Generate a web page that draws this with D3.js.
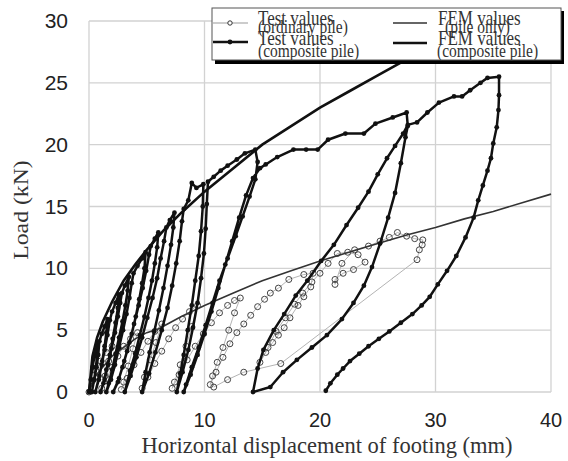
<!DOCTYPE html>
<html>
<head>
<meta charset="utf-8">
<script src="https://cdn.jsdelivr.net/npm/d3@7"></script>
<style>
  body { margin: 0; background: #fff; }
  svg { display: block; }
</style>
</head>
<body>
<div id="chart"></div>
<script>
// axis ticks
var xTicks = [0, 10, 20, 30, 40];
var yTicks = [0, 5, 10, 15, 20, 25, 30];

// FEM values (composite pile)  [displacement mm, load kN]
var femComposite = [[0,0],[0.3,2.9],[0.7,4.4],[1.2,5.7],[2,7.3],[3,9.0],[4,10.3],[5,11.5],[6.5,13.1],
  [8,14.5],[10,16.2],[12.5,18.1],[15,20.0],[17.5,21.5],[20,23.0],[22.5,24.3],[25,25.6],[27.5,26.9],
  [30,28.2],[32.5,29.3],[34.5,30.2]];

// FEM values (pile only)
var femPile = [[0,0],[0.5,1.2],[1,1.8],[2,2.9],[3,3.6],[4,4.3],[5,4.8],[6,5.1],[7,5.6],[8,6.1],[10,7.0],
  [12.5,8.0],[15,9.0],[17.5,9.8],[20,10.6],[22.5,11.3],[25,12.0],[27.5,12.7],[30,13.3],[32.5,14.0],
  [35,14.6],[37.5,15.3],[40,16.0]];

// Test values (composite pile), in loading order
var testComposite = [
  [0,0],[0.15,1.0],[0.3,2.0],[0.5,3.0],[0.75,4.0],
  [0.7,3.0],[0.6,2.0],[0.45,1.0],[0.25,0],
  [0.45,1.0],[0.65,2.0],[0.8,3.0],[0.9,4.1],
  [1.1,4.7],[1.35,5.3],[1.6,5.9],
  [1.5,4.8],[1.35,3.7],[1.15,2.5],[0.9,1.3],[0.55,0],
  [0.85,1.0],[1.1,2.2],[1.35,3.4],[1.6,4.6],[1.8,5.8],
  [2.0,6.5],[2.3,7.2],[2.6,7.9],
  [2.5,6.8],[2.3,5.6],[2.05,4.3],[1.8,3.0],[1.5,1.8],[1.25,0.7],[1.0,0],
  [1.35,1.0],[1.65,2.2],[1.95,3.5],[2.25,4.8],[2.5,6.1],[2.7,7.2],[2.85,8.0],
  [3.1,8.6],[3.45,9.3],
  [3.35,8.2],[3.15,7.0],[2.9,5.7],[2.6,4.4],[2.3,3.1],[2.0,1.8],[1.7,0.7],[1.5,0],
  [1.9,1.0],[2.25,2.2],[2.6,3.6],[2.95,5.0],[3.25,6.3],[3.5,7.6],[3.7,8.8],[3.85,9.6],
  [4.2,10.2],[4.6,10.8],[4.9,11.3],
  [4.8,10.0],[4.6,8.8],[4.35,7.5],[4.05,6.1],[3.7,4.7],[3.3,3.3],[2.9,2.0],[2.5,0.8],[2.1,0],
  [2.6,1.1],[3.05,2.5],[3.5,4.0],[3.9,5.5],[4.3,7.0],[4.65,8.4],[4.95,9.8],[5.2,11.1],[5.35,11.8],
  [5.7,12.4],[6.0,12.9],
  [5.9,11.7],[5.7,10.4],[5.45,9.0],[5.15,7.6],[4.8,6.1],[4.4,4.6],[4.0,3.1],[3.55,1.7],[3.1,0],
  [3.6,1.3],[4.1,2.8],[4.6,4.4],[5.05,6.0],[5.5,7.6],[5.9,9.2],[6.2,10.8],[6.5,12.2],[6.7,13.3],
  [7.0,13.9],[7.4,14.5],
  [7.3,13.3],[7.1,11.9],[6.8,10.2],[6.45,8.4],[6.05,6.6],[5.65,4.9],[5.25,3.2],[4.9,1.6],[4.6,0],
  [5.2,1.5],[5.75,3.2],[6.3,5.0],[6.8,6.8],[7.2,8.6],[7.55,10.4],[7.85,12.2],[8.05,13.8],[8.2,14.8],
  [8.6,15.5],[8.9,16.9],[9.3,16.5],[9.9,16.8],
  [9.85,15.0],[9.7,13.0],[9.5,11.0],[9.2,9.0],[8.9,7.0],[8.55,5.0],[8.2,3.0],[7.9,1.5],[7.6,0],
  [8.1,1.6],[8.6,3.4],[9.0,5.2],[9.4,7.2],[9.7,9.2],[9.95,11.2],[10.1,13.2],[10.2,15.2],[10.3,17.0],
  [10.8,17.4],[11.4,17.9],[12.0,18.3],[12.8,18.8],[13.5,19.3],[14.4,19.6],
  [14.6,18.6],[14.4,17.2],[13.9,15.8],[13.3,14.2],[12.7,12.6],[12.0,10.8],[11.3,9.0],[10.7,7.2],
  [10.1,5.4],[9.5,3.6],[8.9,2.0],[8.4,0.6],[8.2,0],
  [8.8,1.4],[9.4,3.0],[10.0,4.7],[10.6,6.5],[11.2,8.4],[11.8,10.3],[12.4,12.2],[13.0,14.1],[13.6,15.9],
  [14.2,17.3],[14.8,18.1],[15.3,18.4],
  [16.3,19.0],[17.7,19.6],[18.8,19.6],[19.8,19.6],[20.7,20.4],[22.2,20.9],[23.8,20.9],[24.8,21.7],
  [26.3,22.2],[27.5,22.6],
  [27.6,21.5],[27.4,20.6],[27.0,18.5],[26.5,16.1],[25.9,14.1],[25.2,12.0],[24.5,10.1],[23.8,8.6],
  [22.9,7.2],[21.9,5.9],[20.6,4.6],[19.3,3.6],[18.0,2.6],[16.8,1.6],[15.7,0.4],[14.2,0],
  [14.6,1.9],[15.1,3.4],[16.0,5.0],[16.9,6.3],[17.9,7.8],[18.9,9.0],[20.1,10.6],[21.2,11.9],[22.3,13.5],
  [23.3,14.9],[24.2,16.2],[25.0,17.6],[25.8,18.9],[26.5,19.9],[27.2,20.9],[27.6,21.6],
  [28.4,21.8],[29.3,22.6],[30.3,23.4],[31.6,23.9],[32.3,23.9],[33.0,24.4],[33.9,25.0],[34.5,25.4],[35.5,25.5],
  [35.5,24.0],[35.45,22.8],[35.3,21.4],[35.0,20.1],[34.8,18.9],[34.5,17.9],[34.1,16.7],[33.7,15.5],
  [33.3,14.1],[32.6,12.5],[31.8,11.0],[31.0,9.8],[30.2,8.7],[29.5,7.7],[28.8,7.0],[28.0,6.3],[27.0,5.6],
  [26.0,4.9],[25.1,4.3],[24.2,3.7],[23.4,3.1],[22.6,2.5],[22.0,1.9],[21.5,1.4],[20.9,0.7],[20.5,0.1]
];

// Test values (ordinary pile), in loading order
var testOrdinary = [
  [0,0],[0.3,0.9],[0.6,1.7],[1.0,2.5],[1.5,3.2],[2.0,3.7],
  [1.7,2.5],[1.4,1.3],[1.1,0.3],
  [1.5,1.1],[2.0,2.0],[2.5,2.9],[3.0,3.7],[3.6,4.3],[4.2,4.8],
  [3.8,3.5],[3.4,2.1],[3.0,0.8],[2.8,0.2],
  [3.3,1.1],[3.9,2.2],[4.5,3.2],[5.1,4.1],[5.7,4.9],[6.3,5.5],
  [5.8,4.0],[5.3,2.6],[4.8,1.2],[4.6,0.3],
  [5.1,1.2],[5.7,2.3],[6.3,3.3],[6.9,4.3],[7.5,5.2],[8.1,5.9],[8.7,6.5],[9.4,7.0],
  [8.9,5.3],[8.4,3.7],[7.9,2.2],[7.4,0.8],[7.2,0.3],
  [7.8,1.4],[8.5,2.6],[9.2,3.7],[9.9,4.7],[10.6,5.6],[11.3,6.4],[12.0,7.0],[12.6,7.4],[13.1,7.6],
  [12.6,6.4],[12.1,5.0],[11.6,3.6],[11.1,2.4],[10.7,1.3],[10.5,0.6],
  [11.0,1.6],[11.6,2.8],[12.2,3.9],[12.8,4.8],[13.4,5.5],[14.0,6.2],[14.6,6.9],[15.2,7.5],[15.7,8.0],
  [16.4,8.4],[17.3,9.1],[18.6,9.5],[19.4,9.6],
  [19.2,8.5],[18.6,7.7],[18.1,7.0],[17.4,6.0],[16.9,5.2],[16.4,4.6],[15.9,4.0],[15.3,3.2],[14.8,2.4],
  [15.5,3.6],[16.2,4.9],[17.0,6.0],[17.8,7.1],[18.5,8.0],[19.3,8.9],[20.0,9.6],[20.7,10.4],[21.5,11.2],
  [22.4,11.3],[23.3,11.1],[23.9,10.5],[22.9,9.9],[22.0,9.6],[21.3,9.1],[21.3,8.7],
  [21.9,10.4],[23.0,11.5],[24.2,11.8],[25.2,12.2],[26.0,12.5],[26.7,12.9],[27.5,12.6],[28.2,12.4],[28.9,12.3],
  [28.85,11.9],[28.6,11.5],[28.4,10.7],[16.6,2.3],[13.4,1.6],[12.0,1.0],[10.8,0.4]
];

var W = 568, H = 461;
var svg = d3.select("#chart").append("svg").attr("width", W).attr("height", H);

var x = d3.scaleLinear().domain([0, 40]).range([89, 551]);
var y = d3.scaleLinear().domain([0, 30]).range([392, 21]);

var serif = "'Liberation Serif','Times New Roman',serif";
var sans = "'Liberation Sans',Arial,sans-serif";

// grid + frame
var grid = svg.append("g");
xTicks.forEach(function(t) {
  grid.append("line").attr("x1", x(t)).attr("x2", x(t)).attr("y1", y(0)).attr("y2", y(30))
    .attr("stroke", "#d2d2d2").attr("stroke-width", 1.3);
});
yTicks.forEach(function(t) {
  grid.append("line").attr("x1", x(0)).attr("x2", x(40)).attr("y1", y(t)).attr("y2", y(t))
    .attr("stroke", "#d2d2d2").attr("stroke-width", 1.3);
});

// tick labels
svg.append("g").selectAll("text").data(xTicks).join("text")
  .attr("x", d => x(d)).attr("y", 427).attr("text-anchor", "middle")
  .attr("font-family", sans).attr("font-size", 20).attr("fill", "#222")
  .text(d => d);
svg.append("g").selectAll("text").data(yTicks).join("text")
  .attr("x", 68).attr("y", d => y(d) + 7).attr("text-anchor", "end")
  .attr("font-family", sans).attr("font-size", 21).attr("fill", "#222")
  .text(d => d);

// axis titles
svg.append("text").attr("x", 327).attr("y", 453).attr("text-anchor", "middle")
  .attr("font-family", serif).attr("font-size", 22.5).attr("fill", "#333")
  .text("Horizontal displacement of footing (mm)");
svg.append("text").attr("transform", "translate(28,210) rotate(-90) scale(1.08,1)")
  .attr("text-anchor", "middle")
  .attr("font-family", serif).attr("font-size", 22).attr("fill", "#333")
  .text("Load (kN)");

// plot clip
svg.append("clipPath").attr("id", "plotclip").append("rect")
  .attr("x", x(0) - 5).attr("y", y(30)).attr("width", x(40) - x(0) + 10).attr("height", y(0) - y(30) + 5);

var plot = svg.append("g").attr("clip-path", "url(#plotclip)");
var line = d3.line().x(d => x(d[0])).y(d => y(d[1]));

// ordinary pile test values
plot.append("path").datum(testOrdinary).attr("d", line)
  .attr("fill", "none").attr("stroke", "#b4b4b4").attr("stroke-width", 1);
plot.append("g").selectAll("circle").data(testOrdinary).join("circle")
  .attr("cx", d => x(d[0])).attr("cy", d => y(d[1])).attr("r", 3)
  .attr("fill", "none").attr("stroke", "#444").attr("stroke-width", 1);

// FEM lines
plot.append("path").datum(femPile).attr("d", line)
  .attr("fill", "none").attr("stroke", "#333").attr("stroke-width", 1.6);
plot.append("path").datum(femComposite).attr("d", line)
  .attr("fill", "none").attr("stroke", "#111").attr("stroke-width", 2.6);

// composite pile test values
plot.append("path").datum(testComposite).attr("d", line)
  .attr("fill", "none").attr("stroke", "#111").attr("stroke-width", 2.5).attr("stroke-linejoin", "round");
plot.append("g").selectAll("circle").data(testComposite).join("circle")
  .attr("cx", d => x(d[0])).attr("cy", d => y(d[1])).attr("r", 2.4)
  .attr("fill", "#111");

// legend
var lg = svg.append("g");
lg.append("rect").attr("x", 215).attr("y", 11).attr("width", 349).attr("height", 53).attr("fill", "#000");
lg.append("rect").attr("x", 212).attr("y", 8).attr("width", 349).attr("height", 52)
  .attr("fill", "#fff").attr("stroke", "#555").attr("stroke-width", 1);

// symbols
lg.append("line").attr("x1", 213).attr("x2", 248).attr("y1", 23).attr("y2", 23).attr("stroke", "#999").attr("stroke-width", 1);
lg.append("circle").attr("cx", 230).attr("cy", 23).attr("r", 2.2).attr("fill", "#fff").attr("stroke", "#333");
lg.append("line").attr("x1", 213).attr("x2", 248).attr("y1", 42).attr("y2", 42).attr("stroke", "#111").attr("stroke-width", 2.5);
lg.append("circle").attr("cx", 230).attr("cy", 42).attr("r", 2.4).attr("fill", "#111");
lg.append("line").attr("x1", 393).attr("x2", 427).attr("y1", 23).attr("y2", 23).attr("stroke", "#333").attr("stroke-width", 1.4);
lg.append("line").attr("x1", 393).attr("x2", 427).attr("y1", 43).attr("y2", 43).attr("stroke", "#111").attr("stroke-width", 2.6);

function ltext(tx, ty, size, s) {
  lg.append("text").attr("transform", "translate(" + tx + "," + ty + ") scale(1,1.2)")
    .attr("font-family", serif).attr("font-size", size).attr("fill", "#333").text(s);
}
ltext(258, 25, 17, "Test values");
ltext(258, 33, 15.5, "(ordinary pile)");
ltext(438, 25, 17, "FEM values");
ltext(445, 33, 15.5, "(pile only)");
ltext(258, 45, 17, "Test values");
ltext(258, 57, 15.5, "(composite pile)");
ltext(438, 45, 17, "FEM values");
ltext(437, 57, 15.5, "(composite pile)");
</script>
</body>
</html>
